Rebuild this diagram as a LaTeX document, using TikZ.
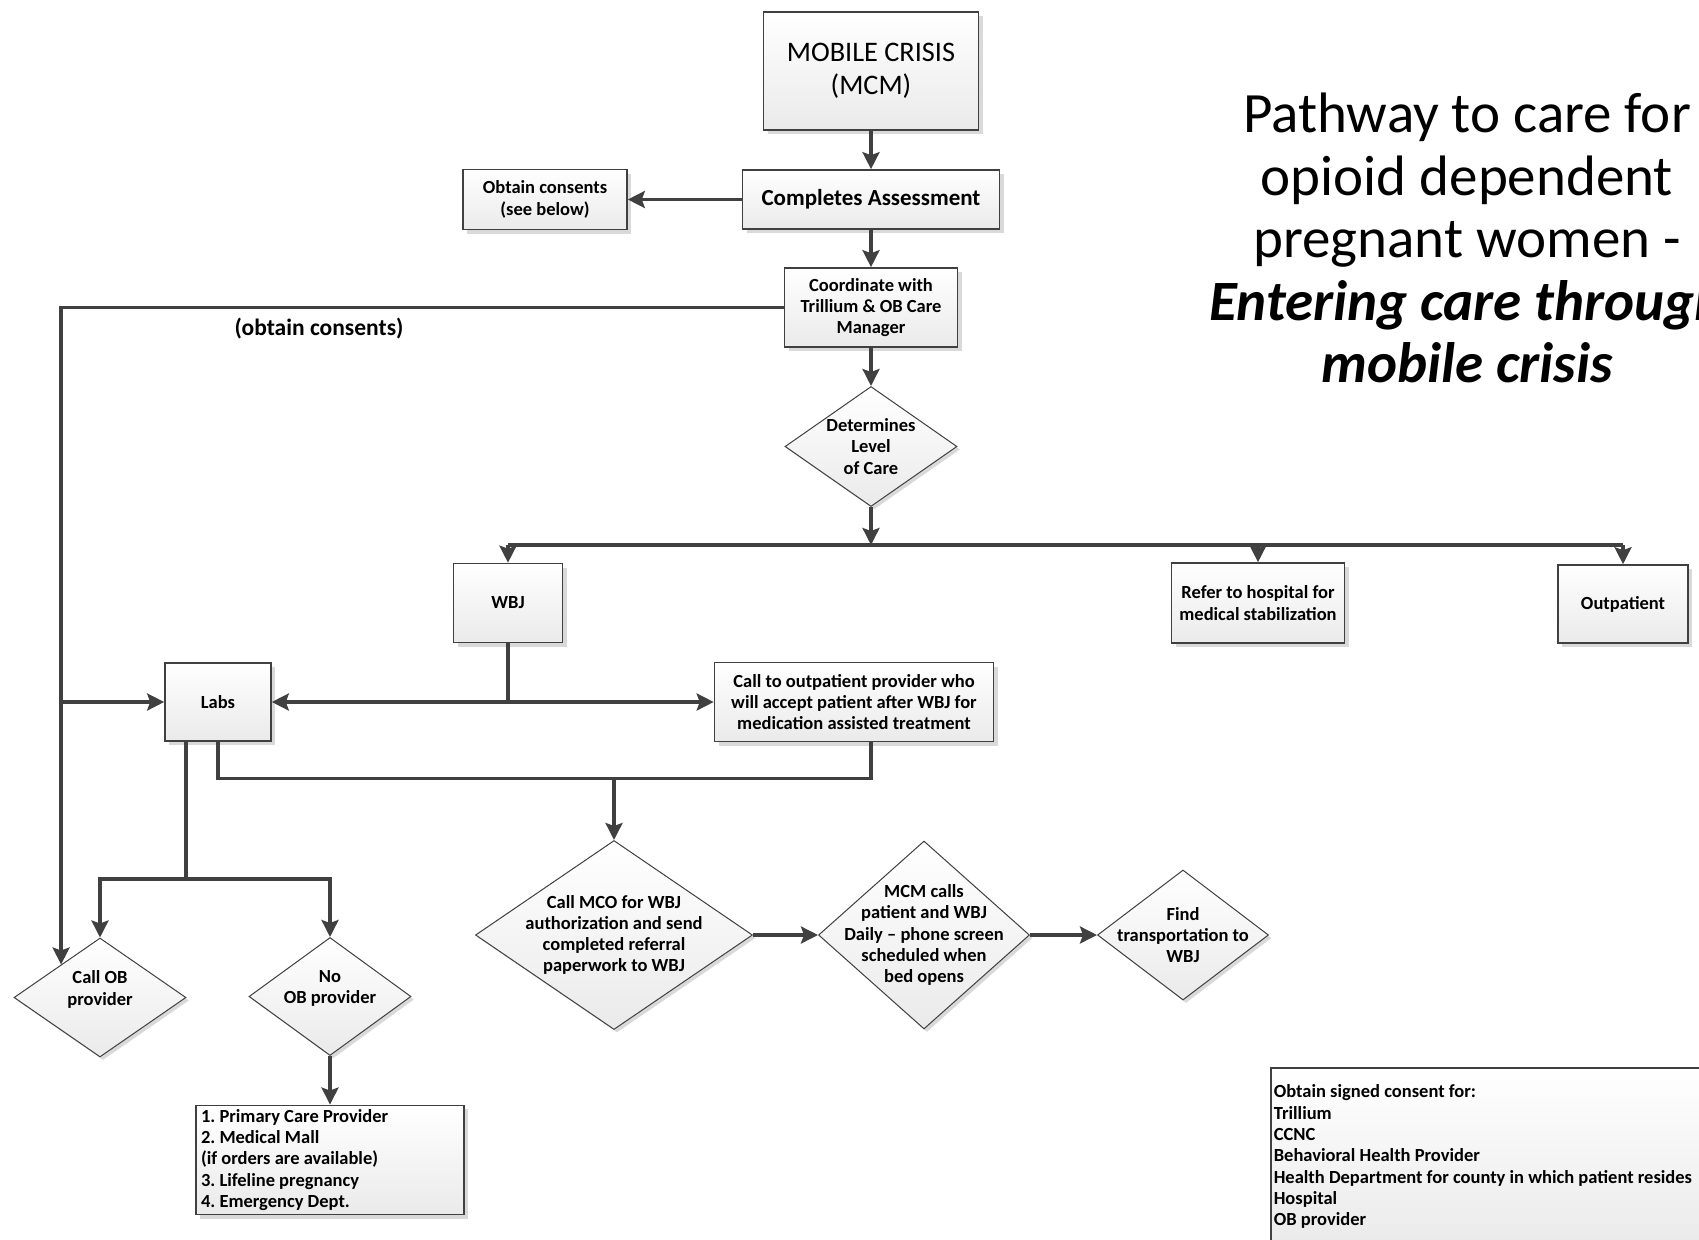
\documentclass[tikz,border=0pt]{standalone}
\usepackage{fontspec}
\setmainfont{Carlito}
\usetikzlibrary{shapes.geometric,arrows.meta,shadows,calc}
\definecolor{edge}{HTML}{404040}
\definecolor{boxfill}{HTML}{EAEAEA}
\newcommand{\smallbold}{\fontsize{18.5}{21.3}\selectfont\bfseries\frenchspacing}
\tikzset{
  box/.style={draw=edge,line width=1.6pt,top color=white,bottom color=boxfill,
    drop shadow={shadow xshift=4pt,shadow yshift=-4pt,fill=black,opacity=0.15},
    inner sep=4pt,align=center,font=\smallbold},
  decision/.style={diamond,draw=edge,line width=1pt,top color=white,bottom color=boxfill,
    drop shadow={shadow xshift=3pt,shadow yshift=-3pt,fill=black,opacity=0.15},
    inner sep=0pt},
  dtext/.style={align=center,font=\smallbold,inner sep=0pt},
  link/.style={draw=edge,line width=3.3pt},
  arr/.style={link,-{Stealth[length=17pt,width=17pt,inset=3pt]}}
}
\begin{document}
\begin{tikzpicture}[x=1pt,y=-1pt]
\useasboundingbox (0,0) rectangle (1699,1239);
% main column
\node[box,font=\fontsize{28.3}{33}\selectfont,minimum width=215pt,minimum height=118pt] (mcm) at (871,71) {MOBILE CRISIS\\(MCM)};
\node[box,font=\fontsize{23}{26}\selectfont\bfseries,minimum width=257pt,minimum height=59pt] (assess) at (871,199.5) {Completes Assessment};
\node[box,minimum width=164pt,minimum height=60pt] (consent) at (545,199.5) {Obtain consents\\(see below)};
\node[box,minimum width=173pt,minimum height=79pt] (coord) at (871,307.5) {Coordinate with\\Trillium \& OB Care\\Manager};
\node[decision,minimum width=172pt,minimum height=120pt,
  label={[dtext]center:{Determines\\Level\\of Care}}] (level) at (871,446.5) {};
\node[font=\fontsize{23.5}{28}\selectfont\bfseries] (oblabel) at (319,329) {(obtain consents)};
% level of care
\node[box,minimum width=109pt,minimum height=79pt] (wbj) at (508,603) {WBJ};
\node[box,minimum width=173pt,minimum height=80pt] (hosp) at (1258,603) {Refer to hospital for\\medical stabilization};
\node[box,minimum width=130pt,minimum height=78pt] (outpt) at (1623,604) {Outpatient};
\node[box,minimum width=106pt,minimum height=78pt] (labs) at (218,702) {Labs};
\node[box,minimum width=279pt,minimum height=79pt] (callop) at (854,702) {Call to outpatient provider who\\will accept patient after WBJ for\\medication assisted treatment};
% WBJ steps
\node[decision,minimum width=277pt,minimum height=189pt,
  label={[dtext]center:{Call MCO for WBJ\\authorization and send\\completed referral\\paperwork to WBJ}}] (mco) at (614,935) {};
\node[decision,minimum width=211pt,minimum height=188pt,
  label={[dtext]center:{MCM calls\\patient and WBJ\\Daily -- phone screen\\scheduled when\\bed opens}}] (daily) at (924,935) {};
\node[decision,minimum width=171pt,minimum height=130pt,
  label={[dtext]center:{Find\\transportation to\\WBJ}}] (ride) at (1183,935) {};
% OB provider
\node[decision,minimum width=172pt,minimum height=119pt,
  label={[dtext,yshift=8pt]center:{Call OB\\provider}}] (callob) at (100,997.5) {};
\node[decision,minimum width=162pt,minimum height=118pt,
  label={[dtext,yshift=8pt]center:{No\\OB provider}}] (noob) at (330,996.5) {};
\node[box,align=flush left,text width=258pt,inner xsep=5pt,minimum height=107pt] (places) at (330,1160) {1. Primary Care Provider\\2. Medical Mall\\(if orders are available)\\3. Lifeline pregnancy\\4. Emergency Dept.};
\node[box,anchor=north west,align=flush left,text width=444pt,inner xsep=3pt,minimum height=178pt] (signed) at (1270,1067) {Obtain signed consent for:\\Trillium\\CCNC\\Behavioral Health Provider\\Health Department for county in which patient resides\\Hospital\\OB provider};
% title
\node[align=center,font=\fontsize{57}{62.5}\selectfont] (title) at (1467,238) {Pathway to care for\\opioid dependent\\pregnant women -\\{\bfseries\itshape Entering care through}\\{\bfseries\itshape mobile crisis}};
% connectors
\draw[arr] (mcm) -- (assess);
\draw[arr] (assess) -- (consent);
\draw[arr] (assess) -- (coord);
\draw[arr] (coord) -- (level);
\coordinate (bus) at (871,545);
\draw[arr] (level) -- (bus);
\draw[link] (wbj |- bus) -- (outpt |- bus);
\draw[arr] (wbj |- bus) -- (wbj);
\draw[arr] (hosp |- bus) -- (hosp);
\draw[arr] (outpt |- bus) -- (outpt);
\coordinate (obtip) at ($(callob.west)!0.55!(callob.north)$);
\draw[arr] (coord.west) -| (obtip);
\draw[arr] (obtip |- labs) -- (labs);
\coordinate (fork) at (wbj |- labs);
\draw[link] (wbj) -- (fork);
\draw[arr] (fork) -- (labs);
\draw[arr] (fork) -- (callop);
\coordinate (join) at (614,778.5);
\draw[link] (labs.south) |- (join) -| (mcm |- callop.south);
\draw[arr] (join) -- (mco);
\coordinate (split) at (186,879);
\draw[link] (split |- labs.south) -- (split);
\draw[arr] (split) -| (callob);
\draw[arr] (split) -| (noob);
\draw[arr] (noob) -- (places);
\draw[arr] (mco) -- (daily);
\draw[arr] (daily) -- (ride);
\end{tikzpicture}
\end{document}
